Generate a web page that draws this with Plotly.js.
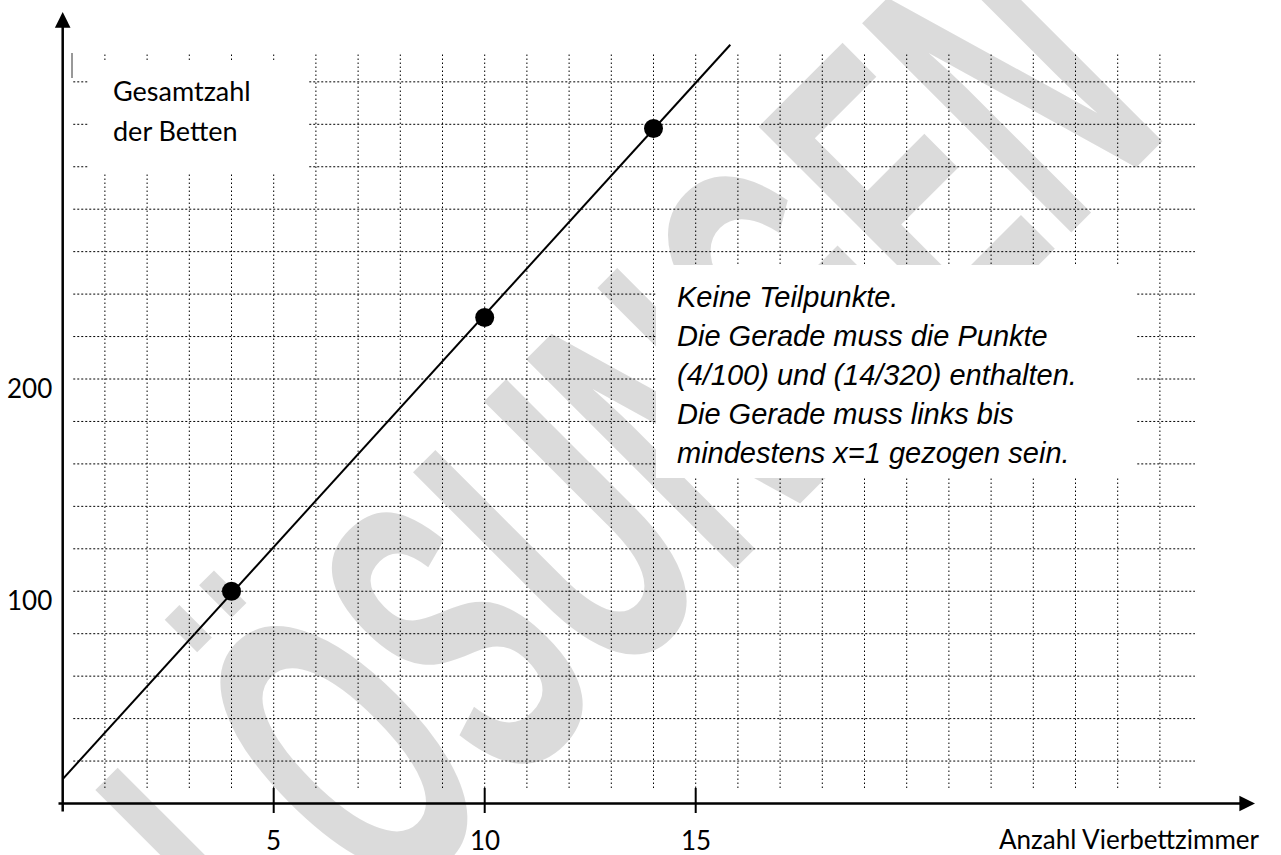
<!DOCTYPE html>
<html>
<head>
<meta charset="utf-8">
<script src="https://cdn.plot.ly/plotly-3.0.1.min.js"></script>
<style>
html, body { margin: 0; padding: 0; background: #ffffff; }
#chart { width: 1281px; height: 855px; }
</style>
</head>
<body>
<div id="chart"></div>
<script>
// ---------------- data ----------------
const pointX = [4, 10, 14];
const pointY = [100, 229, 318];
const lineX = [0, 15.82];
const lineY = [11.5, 357.5];
const xTickVals = [5, 10, 15];
const xTickText = ['5', '10', '15'];
const yTickVals = [100, 200];
const yTickText = ['100', '200'];
const xAxisTitle = 'Anzahl Vierbettzimmer';
const yAxisTitleLines = ['Gesamtzahl', 'der Betten'];
const noteLines = [
  'Keine Teilpunkte.',
  'Die Gerade muss die Punkte',
  '(4/100) und (14/320) enthalten.',
  'Die Gerade muss links bis',
  'mindestens x=1 gezogen sein.'
];
const watermarkText = 'LÖSUNGEN';

// ---------------- geometry ----------------
const W = 1281, H = 855;
const X0PX = 62.7, UX = 42.2;     // pixel of x=0, pixels per x unit
const Y0PX = 803.5, UY = 2.1225;  // pixel of y=0, pixels per y unit
const px2x = p => (p - X0PX) / UX;
const px2y = p => (Y0PX - p) / UY;

const calibri = 'Lato, Carlito, Calibri, sans-serif';
const arial = '"Liberation Sans", Arial, sans-serif';

// grid
const shapes = [];
const gridStepY = 20, gridMaxY = 340, gridStepX = 1, gridMaxX = 26;
for (let v = gridStepY; v <= gridMaxY; v += gridStepY) {
  shapes.push({type: 'line', layer: 'below', xref: 'x', yref: 'y',
    x0: 0.25, x1: 26.83, y0: v, y1: v,
    line: {color: '#000', width: 1, dash: '2px,2px'}});
}
for (let v = gridStepX; v <= gridMaxX; v += gridStepX) {
  shapes.push({type: 'line', layer: 'below', xref: 'x', yref: 'y',
    x0: v, x1: v, y0: px2y(788), y1: px2y(53),
    line: {color: '#000', width: 1, dash: '1.5px,2.5px'}});
}
// small cursor mark near the top-left
shapes.push({type: 'line', layer: 'below', xref: 'x', yref: 'y',
  x0: px2x(72), x1: px2x(72), y0: px2y(53), y1: px2y(78),
  line: {color: '#333', width: 1}});
// tick marks on x axis
xTickVals.forEach(v => {
  shapes.push({type: 'line', layer: 'above', xref: 'x', yref: 'y',
    x0: v, x1: v, y0: px2y(788), y1: px2y(813),
    line: {color: '#000', width: 2}});
});

// ---------------- annotations ----------------
const annotations = [];
// watermark (index 0)
annotations.push({xref: 'paper', yref: 'paper', x: 628 / W, y: 1 - 465 / H,
  xanchor: 'center', yanchor: 'middle', showarrow: false, text: watermarkText,
  textangle: -45,
  font: {family: arial, size: 430, weight: 700, color: 'rgba(0,0,0,0.14)'}});
// white boxes
annotations.push({xref: 'paper', yref: 'paper', x: (89 + 309) / 2 / W, y: 1 - (60 + 173) / 2 / H,
  xanchor: 'center', yanchor: 'middle', showarrow: false, text: '&nbsp;',
  width: 220, height: 113, borderpad: 0, borderwidth: 0, bgcolor: '#ffffff'});
annotations.push({xref: 'paper', yref: 'paper', x: (656 + 1136) / 2 / W, y: 1 - (265 + 478) / 2 / H,
  xanchor: 'center', yanchor: 'middle', showarrow: false, text: '&nbsp;',
  width: 480, height: 213, borderpad: 0, borderwidth: 0, bgcolor: '#ffffff'});
// y-axis title lines
yAxisTitleLines.forEach((t, i) => {
  annotations.push({xref: 'x', yref: 'y', x: px2x(111.5), y: px2y(90 + 40 * i),
    xanchor: 'left', yanchor: 'middle', showarrow: false, text: t, borderpad: 0,
    font: {family: calibri, size: 27, color: '#000'}});
});
// note lines
noteLines.forEach((t, i) => {
  annotations.push({xref: 'x', yref: 'y', x: px2x(676), y: px2y(296.7 + 39 * i),
    xanchor: 'left', yanchor: 'middle', showarrow: false, text: t, borderpad: 0,
    font: {family: arial, size: 29, style: 'italic', color: '#000'}});
});
// tick labels
xTickVals.forEach((v, i) => {
  annotations.push({xref: 'x', yref: 'y', x: v, y: px2y(839.5),
    xanchor: 'center', yanchor: 'middle', showarrow: false, text: xTickText[i], borderpad: 0,
    font: {family: calibri, size: 26, color: '#000'}});
});
yTickVals.forEach((v, i) => {
  annotations.push({xref: 'x', yref: 'y', x: px2x(53), y: v - 9 / UY,
    xanchor: 'right', yanchor: 'middle', showarrow: false, text: yTickText[i], borderpad: 0,
    font: {family: calibri, size: 26, color: '#000'}});
});
// x axis title
annotations.push({xref: 'x', yref: 'y', x: px2x(998), y: px2y(838.5),
  xanchor: 'left', yanchor: 'middle', showarrow: false, text: xAxisTitle, borderpad: 0,
  font: {family: calibri, size: 26, color: '#000'}});
// axes with arrows
annotations.push({xref: 'x', yref: 'y', axref: 'x', ayref: 'y',
  x: px2x(1255), y: 0, ax: px2x(57), ay: 0, text: '', showarrow: true,
  arrowhead: 2, arrowsize: 1.25, arrowwidth: 2.5, arrowcolor: '#000', standoff: 0});
annotations.push({xref: 'x', yref: 'y', axref: 'x', ayref: 'y',
  x: 0, y: px2y(12), ax: 0, ay: px2y(813), text: '', showarrow: true,
  arrowhead: 2, arrowsize: 1.25, arrowwidth: 2.5, arrowcolor: '#000', standoff: 0});

// ---------------- traces ----------------
const traces = [
  {type: 'scatter', mode: 'lines', x: lineX, y: lineY,
   line: {color: '#000', width: 2}, hoverinfo: 'skip', showlegend: false},
  {type: 'scatter', mode: 'markers', x: pointX, y: pointY,
   marker: {color: '#000', size: 19, line: {width: 0}}, hoverinfo: 'skip', showlegend: false}
];

const axisCommon = {showgrid: false, zeroline: false, showline: false,
  showticklabels: false, ticks: '', fixedrange: true};

const layout = {
  width: W, height: H,
  margin: {l: 0, r: 0, t: 0, b: 0, pad: 0},
  paper_bgcolor: '#ffffff', plot_bgcolor: '#ffffff',
  showlegend: false, hovermode: false,
  xaxis: Object.assign({range: [px2x(0), px2x(W)]}, axisCommon),
  yaxis: Object.assign({range: [px2y(H), px2y(0)]}, axisCommon),
  shapes: shapes,
  annotations: annotations
};

Plotly.newPlot('chart', traces, layout, {staticPlot: true, displayModeBar: false}).then(function (gd) {
  // compress the watermark letters along their baseline
  try {
    const g = gd.querySelector('.annotation[data-index="0"] .annotation-text-g');
    if (g) {
      const t = g.getAttribute('transform') || '';
      const m = t.match(/rotate\(\s*([-\d.e]+)[,\s]+([-\d.e]+)[,\s]+([-\d.e]+)\s*\)/);
      if (m) {
        const cx = +m[2], cy = +m[3], sx = 0.51;
        g.setAttribute('transform', t + ' translate(' + cx + ',' + cy + ') scale(' + sx + ',1) translate(' + (-cx) + ',' + (-cy) + ')');
      }
    }
  } catch (e) {}
});
</script>
</body>
</html>
